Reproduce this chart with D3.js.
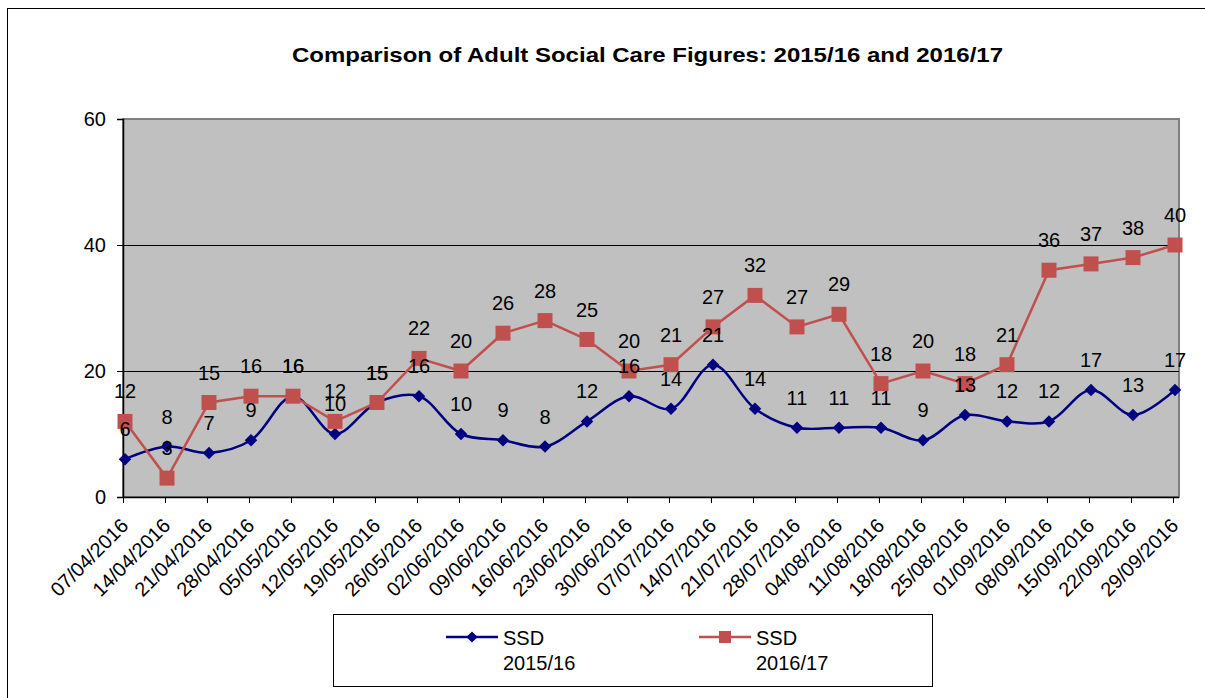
<!DOCTYPE html>
<html>
<head>
<meta charset="utf-8">
<script src="https://cdn.jsdelivr.net/npm/d3@7"></script>
<style>
  body { margin: 0; background: #fff; }
  text { font-family: Arial, "Liberation Sans", sans-serif; }
</style>
</head>
<body>
<div class="chart"></div>
<script>
var svgWidth = 1205;
var svgHeight = 698;

// categories and series values
var dates = ["07/04/2016", "14/04/2016", "21/04/2016", "28/04/2016", "05/05/2016",
  "12/05/2016", "19/05/2016", "26/05/2016", "02/06/2016", "09/06/2016", "16/06/2016",
  "23/06/2016", "30/06/2016", "07/07/2016", "14/07/2016", "21/07/2016", "28/07/2016",
  "04/08/2016", "11/08/2016", "18/08/2016", "25/08/2016", "01/09/2016", "08/09/2016",
  "15/09/2016", "22/09/2016", "29/09/2016"];
var ssd1516 = [6, 8, 7, 9, 16, 10, 15, 16, 10, 9, 8, 12, 16, 14, 21, 14, 11, 11, 11, 9, 13, 12, 12, 17, 13, 17];
var ssd1617 = [12, 3, 15, 16, 16, 12, 15, 22, 20, 26, 28, 25, 20, 21, 27, 32, 27, 29, 18, 20, 18, 21, 36, 37, 38, 40];
var yTicks = [0, 20, 40, 60];
var seriesNames = ["SSD 2015/16", "SSD 2016/17"];

// plot area
var plot = { left: 123, right: 1179, top: 119, bottom: 497 };

var svg = d3.select(".chart")
  .append("svg")
  .attr("width", svgWidth)
  .attr("height", svgHeight);

// outer chart border
svg.append("rect")
  .attr("x", 7.5).attr("y", 8.5)
  .attr("width", 1210).attr("height", 710)
  .attr("fill", "#fff")
  .attr("stroke", "#000");

svg.append("text")
  .attr("x", 292).attr("y", 62)
  .attr("font-size", "21px")
  .attr("font-weight", "bold")
  .attr("textLength", 711)
  .attr("lengthAdjust", "spacingAndGlyphs")
  .text("Comparison of Adult Social Care Figures: 2015/16 and 2016/17");

var x = d3.scalePoint()
  .domain(dates)
  .range([125, 1175]);

var y = d3.scaleLinear()
  .domain([0, 60])
  .range([plot.bottom, plot.top]);

// plot background
svg.append("rect")
  .attr("x", plot.left).attr("y", plot.top)
  .attr("width", plot.right - plot.left)
  .attr("height", plot.bottom - plot.top)
  .attr("fill", "#c0c0c0")
  .attr("stroke", "#808080")
  .attr("stroke-width", 2);

// gridlines
svg.append("g")
  .selectAll("line")
  .data(yTicks.filter(d => d > 0 && d < 60))
  .enter()
  .append("line")
  .attr("x1", plot.left).attr("x2", plot.right)
  .attr("y1", d => y(d) + 0.5).attr("y2", d => y(d) + 0.5)
  .attr("stroke", "#000");

// y axis
var leftAxis = d3.axisLeft(y).tickValues(yTicks).tickSize(6).tickPadding(11);
var yAxis = svg.append("g")
  .attr("transform", `translate(${plot.left}, 0)`)
  .call(leftAxis);
yAxis.select(".domain").attr("stroke", "#000").attr("stroke-width", 1.5);
yAxis.selectAll("text").attr("font-size", "20px").attr("fill", "#000")
  .attr("font-family", "Arial, 'Liberation Sans', sans-serif");

// x axis
var bottomAxis = d3.axisBottom(x).tickSize(6).tickSizeOuter(0);
var xAxis = svg.append("g")
  .attr("transform", `translate(0, ${plot.bottom})`)
  .call(bottomAxis);
xAxis.select(".domain")
  .attr("d", `M${plot.left},0.5H${plot.right}`)
  .attr("stroke", "#000").attr("stroke-width", 1.5);
xAxis.selectAll(".tick line").attr("transform", "translate(-2,0)");
xAxis.selectAll("text")
  .attr("font-size", "20px")
  .attr("font-family", "Arial, 'Liberation Sans', sans-serif")
  .attr("fill", "#000")
  .attr("text-anchor", "end")
  .attr("dy", null)
  .attr("y", 0)
  .attr("transform", "translate(4,30) rotate(-45)");

var blue = "#000080";
var red = "#c0504d";

var blueLine = d3.line()
  .x((d, i) => x(dates[i]))
  .y(d => y(d))
  .curve(d3.curveCatmullRom.alpha(0.5));

var redLine = d3.line()
  .x((d, i) => x(dates[i]))
  .y(d => y(d));

svg.append("path")
  .datum(ssd1516)
  .attr("d", blueLine)
  .attr("fill", "none")
  .attr("stroke", blue)
  .attr("stroke-width", 2.5);

svg.append("g").selectAll("path")
  .data(ssd1516)
  .enter()
  .append("path")
  .attr("d", d3.symbol().type(d3.symbolDiamond2).size(100))
  .attr("transform", (d, i) => `translate(${x(dates[i])}, ${y(d)})`)
  .attr("fill", blue);

svg.append("path")
  .datum(ssd1617)
  .attr("d", redLine)
  .attr("fill", "none")
  .attr("stroke", red)
  .attr("stroke-width", 2.5);

svg.append("g").selectAll("rect")
  .data(ssd1617)
  .enter()
  .append("rect")
  .attr("x", (d, i) => x(dates[i]) - 7.5)
  .attr("y", d => y(d) - 7.5)
  .attr("width", 15).attr("height", 15)
  .attr("fill", red);

// data labels
function addLabels(values) {
  svg.append("g").selectAll("text")
    .data(values)
    .enter()
    .append("text")
    .attr("x", (d, i) => x(dates[i]))
    .attr("y", d => y(d) - 23)
    .attr("text-anchor", "middle")
    .attr("font-size", "20px")
    .attr("fill", "#000")
    .text(d => d);
}
addLabels(ssd1617);
addLabels(ssd1516);

// legend
svg.append("rect")
  .attr("x", 333.5).attr("y", 614.5)
  .attr("width", 599).attr("height", 72)
  .attr("fill", "#fff")
  .attr("stroke", "#000");

var legend = svg.append("g").selectAll("g")
  .data(seriesNames)
  .enter()
  .append("g")
  .attr("transform", (d, i) => `translate(${446 + i * 253}, 637)`);

legend.append("line")
  .attr("x1", 0).attr("x2", 52)
  .attr("stroke", (d, i) => i ? red : blue)
  .attr("stroke-width", 2.5);

legend.append("path")
  .attr("d", (d, i) => i ? "M-6,-6H6V6H-6Z" : d3.symbol().type(d3.symbolDiamond2).size(80)())
  .attr("transform", "translate(26,0)")
  .attr("fill", (d, i) => i ? red : blue);

legend.append("text")
  .attr("x", 57).attr("y", 8)
  .attr("font-size", "20px")
  .text(d => d.split(" ")[0]);

legend.append("text")
  .attr("x", 57).attr("y", 33)
  .attr("font-size", "20px")
  .text(d => d.split(" ")[1]);
</script>
</body>
</html>
